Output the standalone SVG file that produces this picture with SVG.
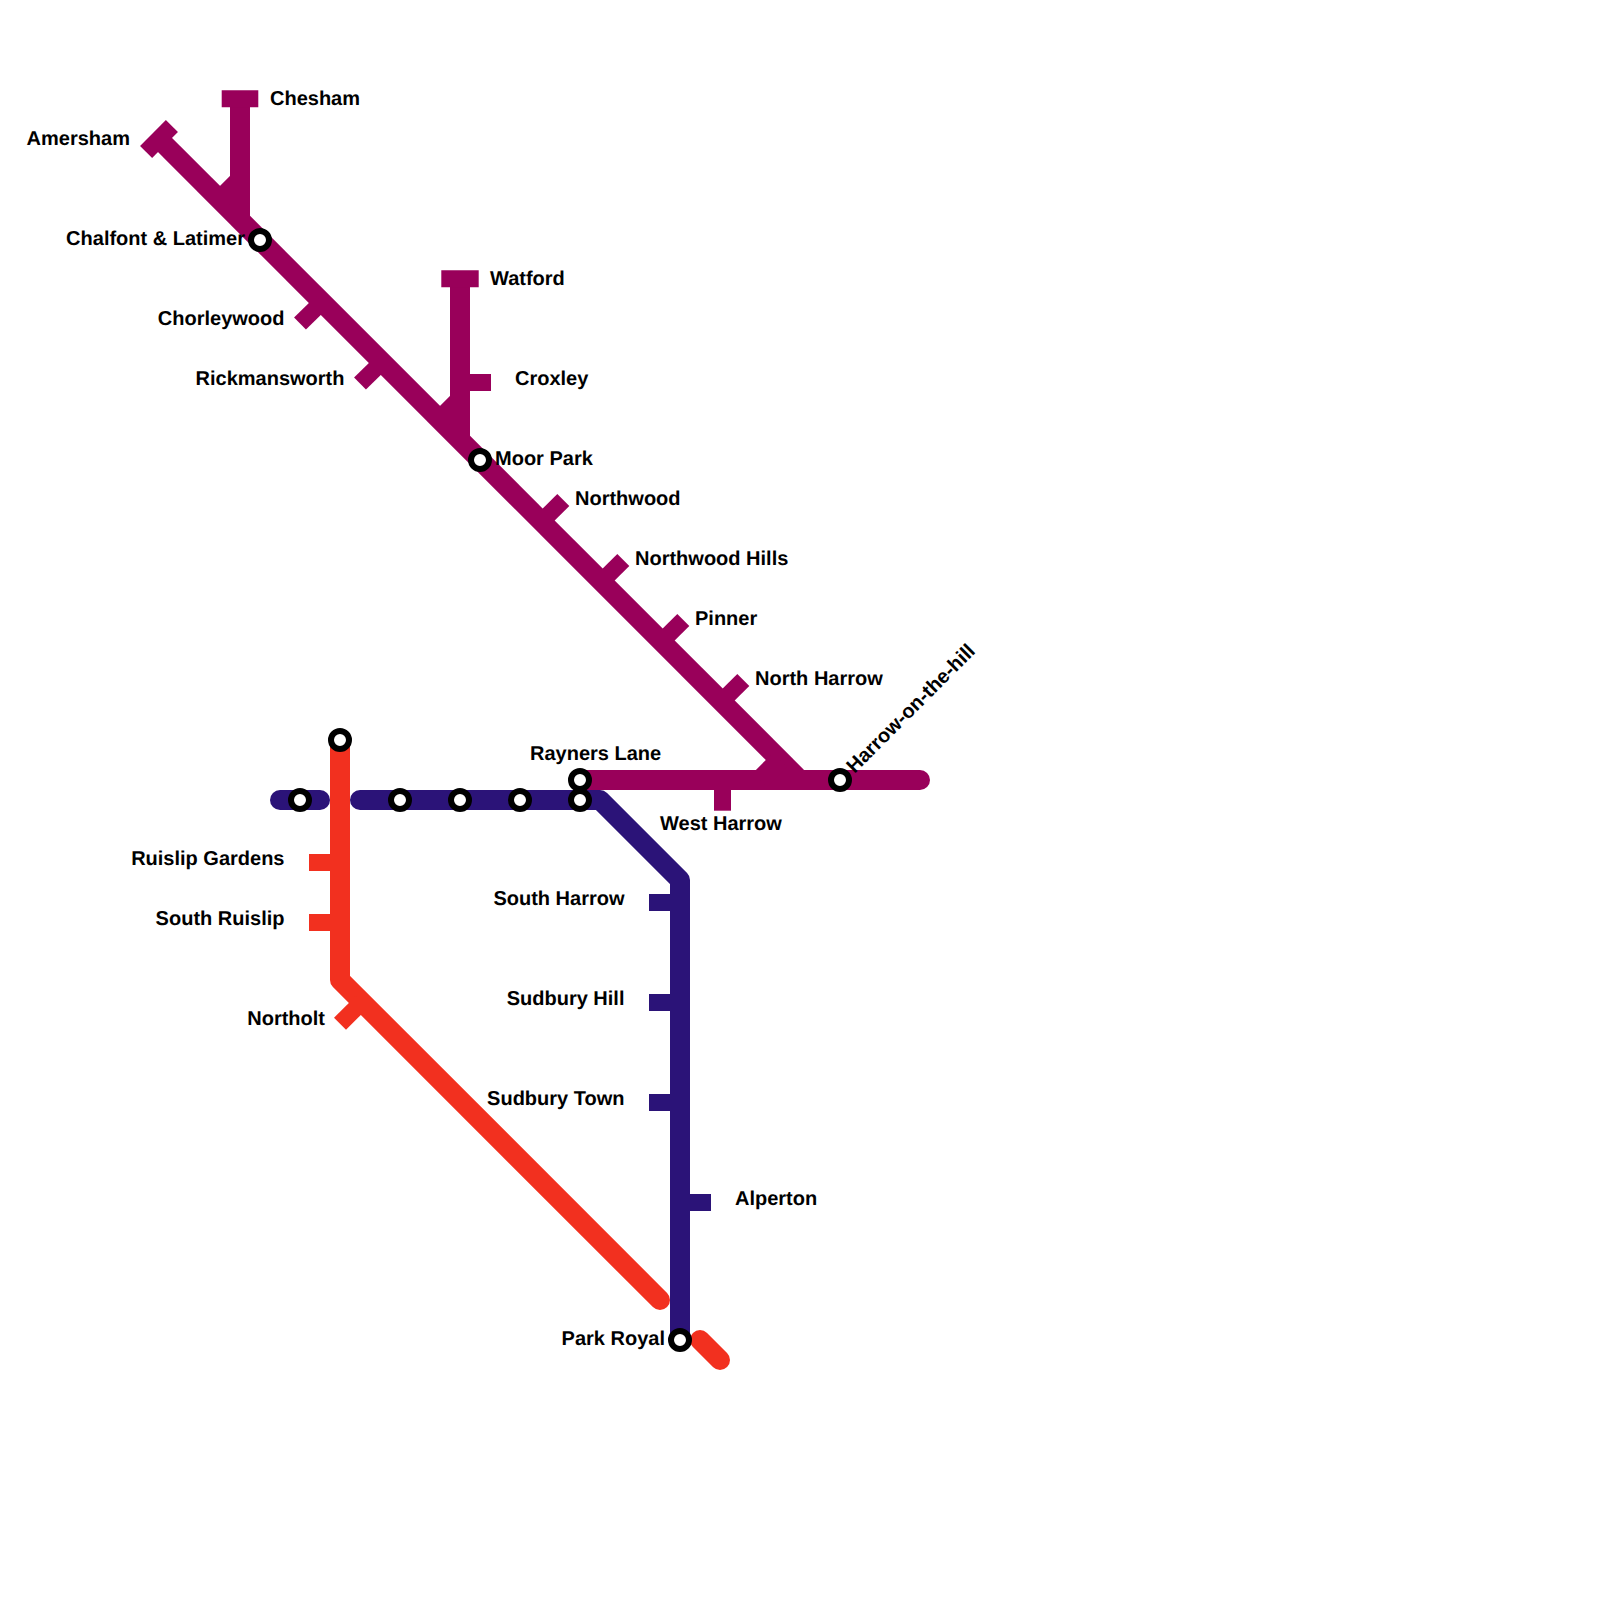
<svg xmlns="http://www.w3.org/2000/svg" width="1600" height="1600" viewBox="0 0 1600 1600">
<style>
.line{fill:none;stroke-width:20;stroke-linecap:round;stroke-linejoin:round}
.butt{stroke-linecap:butt}
.tick{fill:none;stroke-width:17;stroke-linecap:butt}
.met{stroke:#99005a}
.pic{stroke:#2b1378}
.cen{stroke:#f2301f}
.st{fill:#fff;stroke:#000;stroke-width:6}
text{font-family:"Liberation Sans",Arial,sans-serif;font-size:20px;font-weight:700;fill:#000;text-rendering:geometricPrecision}
.e{text-anchor:end}
</style>
<rect width="1600" height="1600" fill="#fff"/>
<g id="connectors">
<path class="line pic" d="M280 800H320"/>
<path class="line pic" d="M360 800H600L680 880V1340"/>
<path class="line cen" d="M340 740V980L660 1300"/>
<path class="line cen" d="M700 1340L720 1360"/>
<path class="line met butt" d="M160 140L800 780"/>
<path class="line met butt" d="M240 98V220M240 180L220 200"/>
<path class="line met butt" d="M460 278V440M460 400L440 420"/>
<path class="line met" d="M580 780H920"/>
<path class="line met butt" d="M780 760L760 780"/>
</g>
<g id="chesham"><path class="tick met" d="M221.700 98.700H258.300"/><text x="270" y="105">Chesham</text></g>
<g id="amersham"><path class="tick met" d="M171.900 126L146.100 151.900"/><text class="e" x="130" y="145">Amersham</text></g>
<g id="chalfont-latimer"><circle class="st" cx="260" cy="240" r="9"/><text class="e" x="245" y="245">Chalfont &amp; Latimer</text></g>
<g id="chorleywood"><path class="tick met" d="M322 302L300 323.500"/><text class="e" x="284.500" y="325">Chorleywood</text></g>
<g id="rickmansworth"><path class="tick met" d="M382 362L360 383.500"/><text class="e" x="344.500" y="385">Rickmansworth</text></g>
<g id="watford"><path class="tick met" d="M441.300 278.700H478.700"/><text x="490" y="285">Watford</text></g>
<g id="croxley"><path class="tick met" d="M460 382.500H491"/><text x="515" y="385">Croxley</text></g>
<g id="moor-park"><circle class="st" cx="480" cy="460" r="9"/><text x="495" y="465">Moor Park</text></g>
<g id="northwood"><path class="tick met" d="M541.600 521.600L563.300 500"/><text x="575" y="505">Northwood</text></g>
<g id="northwood-hills"><path class="tick met" d="M601.600 581.600L623.300 560"/><text x="635" y="565">Northwood Hills</text></g>
<g id="pinner"><path class="tick met" d="M661.600 641.600L683.300 620"/><text x="695" y="625">Pinner</text></g>
<g id="north-harrow"><path class="tick met" d="M721.600 701.600L743.300 680"/><text x="755" y="685">North Harrow</text></g>
<g id="rayners-lane"><circle class="st" cx="580" cy="780" r="9"/><circle class="st" cx="580" cy="800" r="9"/><text x="530" y="760">Rayners Lane</text></g>
<g id="west-harrow"><path class="tick met" d="M722.500 780V810.700"/><text x="660" y="830">West Harrow</text></g>
<g id="harrow-on-the-hill"><circle class="st" cx="840" cy="780" r="9"/><text transform="translate(854.500 774) rotate(-45)">Harrow-on-the-hill</text></g>
<g id="station-300"><circle class="st" cx="300" cy="800" r="9"/></g>
<g id="station-400"><circle class="st" cx="400" cy="800" r="9"/></g>
<g id="station-460"><circle class="st" cx="460" cy="800" r="9"/></g>
<g id="station-520"><circle class="st" cx="520" cy="800" r="9"/></g>
<g id="station-340"><circle class="st" cx="340" cy="740" r="9"/></g>
<g id="ruislip-gardens"><path class="tick cen" d="M309 862.500H340"/><text class="e" x="284.500" y="865">Ruislip Gardens</text></g>
<g id="south-ruislip"><path class="tick cen" d="M309 922.500H340"/><text class="e" x="284.500" y="925">South Ruislip</text></g>
<g id="northolt"><path class="tick cen" d="M361.900 1001.900L340 1023.700"/><text class="e" x="325" y="1025">Northolt</text></g>
<g id="south-harrow"><path class="tick pic" d="M649 902.500H680"/><text class="e" x="624.500" y="905">South Harrow</text></g>
<g id="sudbury-hill"><path class="tick pic" d="M649 1002.500H680"/><text class="e" x="624.500" y="1005">Sudbury Hill</text></g>
<g id="sudbury-town"><path class="tick pic" d="M649 1102.500H680"/><text class="e" x="624.500" y="1105">Sudbury Town</text></g>
<g id="alperton"><path class="tick pic" d="M680 1202.500H711"/><text x="735" y="1205">Alperton</text></g>
<g id="park-royal"><circle class="st" cx="680" cy="1340" r="9"/><text class="e" x="665" y="1345">Park Royal</text></g>
</svg>
